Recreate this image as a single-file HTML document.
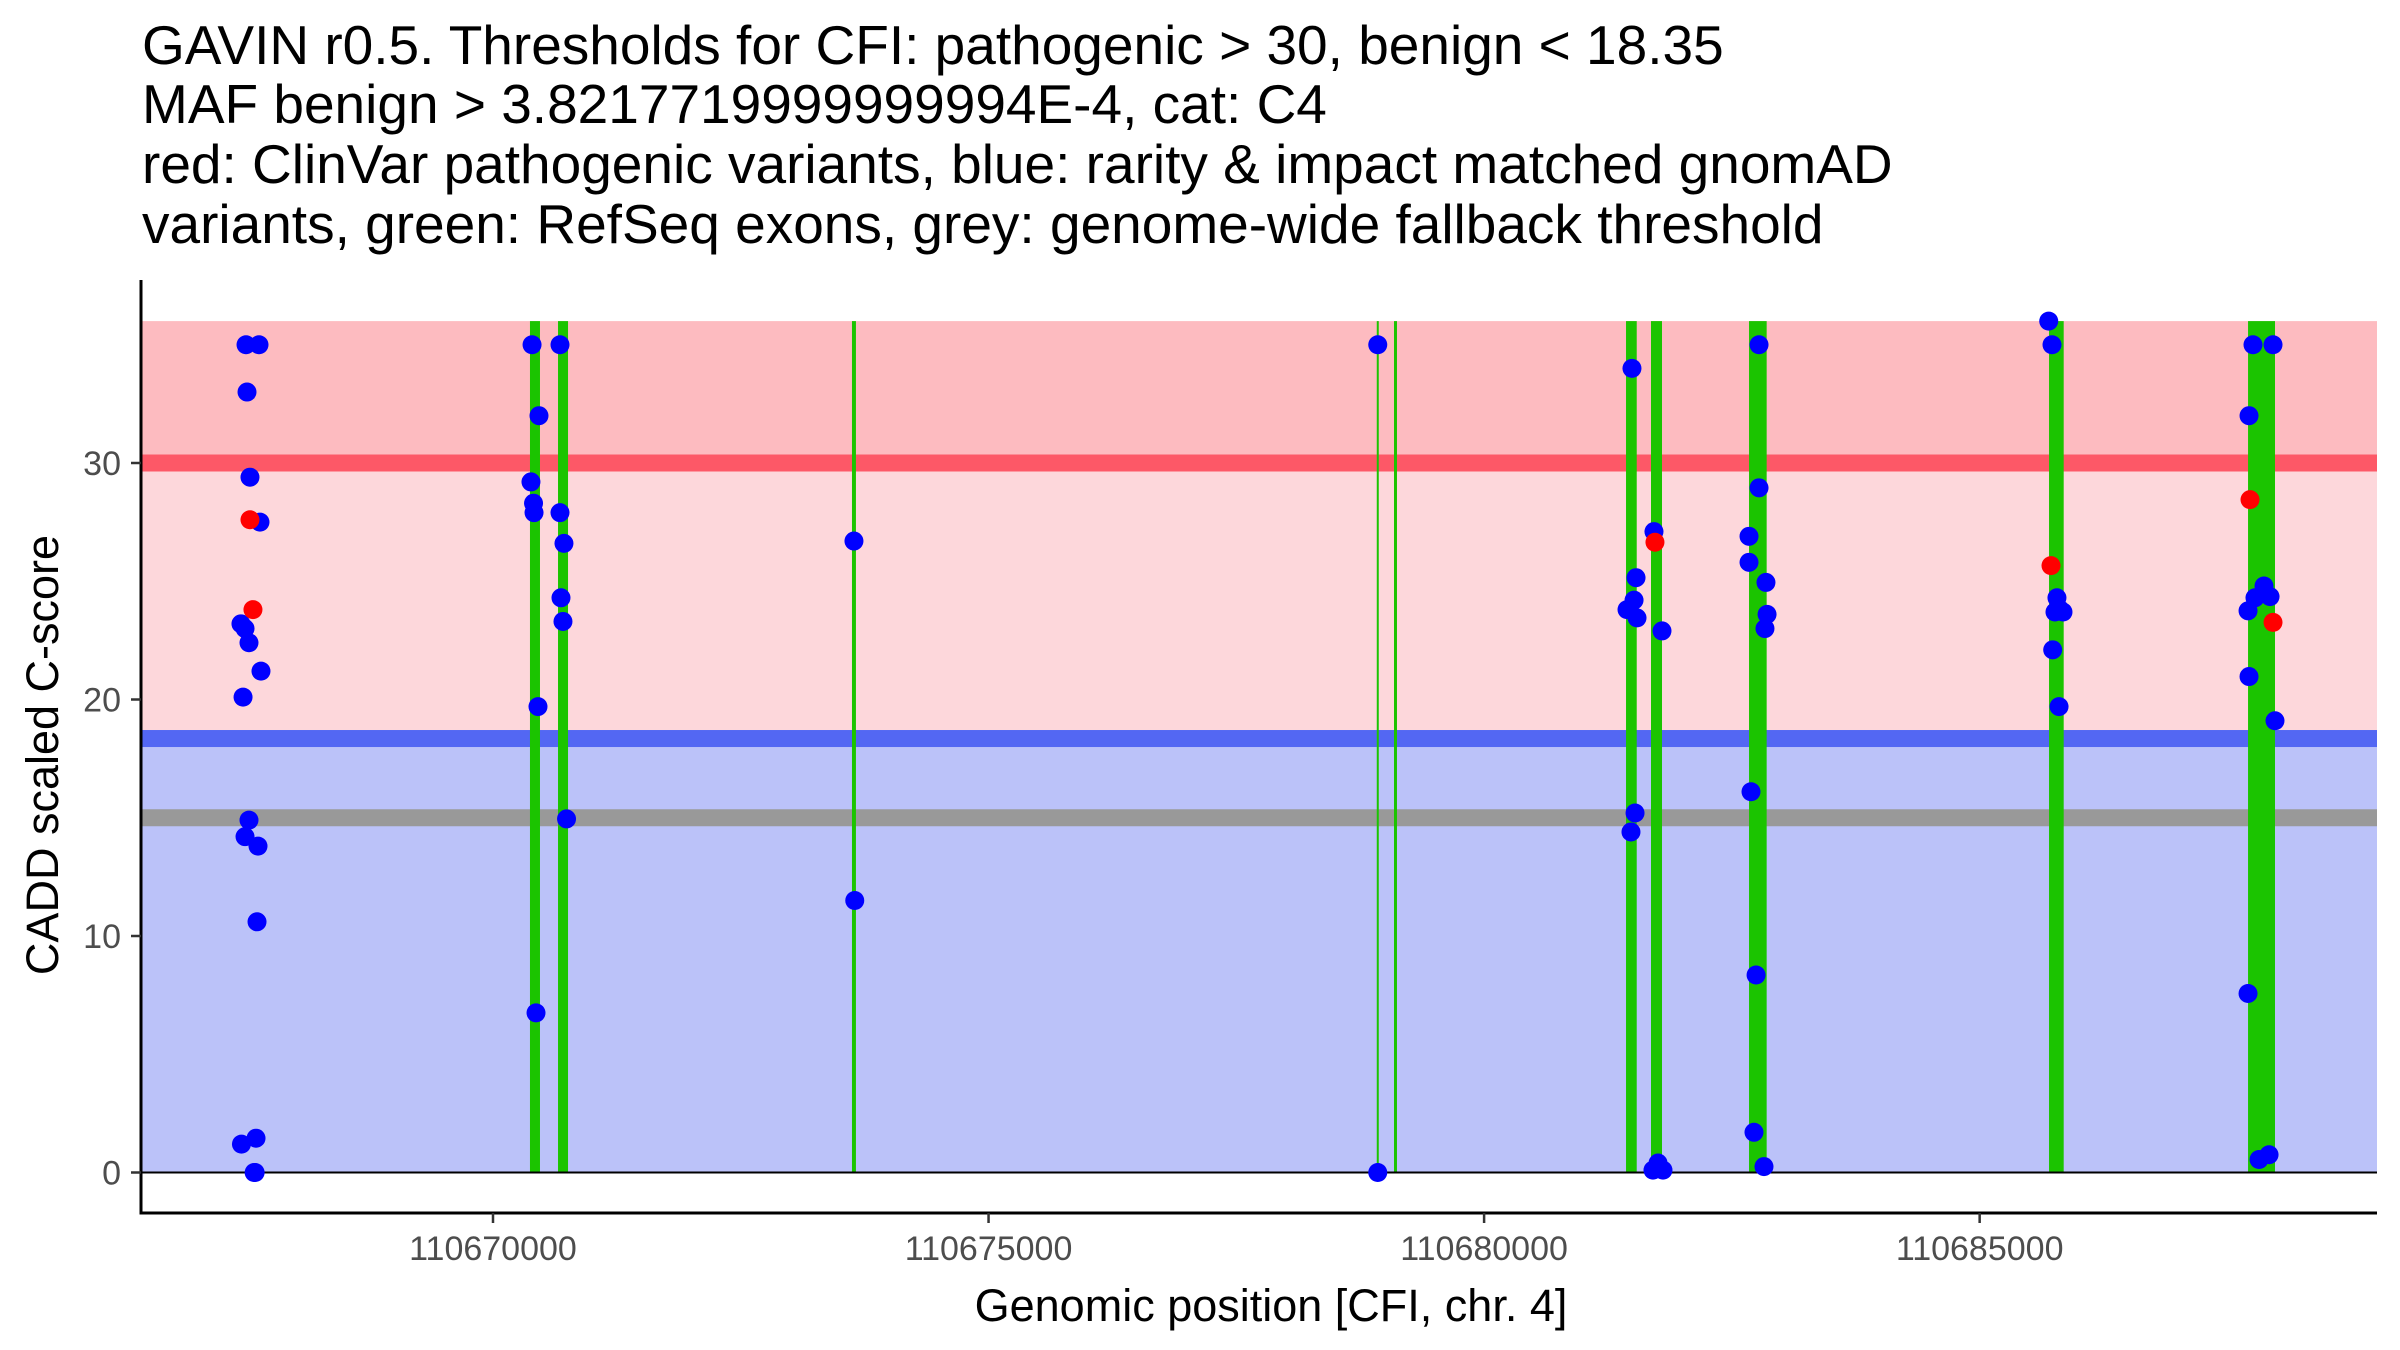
<!DOCTYPE html>
<html><head><meta charset="utf-8"><style>
html,body{margin:0;padding:0;background:#fff;}
svg{display:block;font-family:"Liberation Sans",Arial,sans-serif;}
</style></head><body>
<svg id="chart" width="2400" height="1350" viewBox="0 0 2400 1350" xmlns="http://www.w3.org/2000/svg">
<g font-size="55" fill="#000">
<text x="142" y="64">GAVIN r0.5. Thresholds for CFI: pathogenic &gt; 30, benign &lt; 18.35</text>
<text x="142" y="123">MAF benign &gt; 3.8217719999999994E-4, cat: C4</text>
<text x="142" y="183">red: ClinVar pathogenic variants, blue: rarity &amp; impact matched gnomAD</text>
<text x="142" y="243">variants, green: RefSeq exons, grey: genome-wide fallback threshold</text>
</g>
<g id="bands"></g>
<g id="exons"></g>
<line id="zeroline" stroke="#000" stroke-width="2"/>
<g id="points"></g>
<g id="axes"></g>
<text font-size="45" text-anchor="middle" transform="translate(58,755) rotate(-90)">CADD scaled C-score</text>
<text font-size="45" x="1271" y="1321" text-anchor="middle">Genomic position [CFI, chr. 4]</text>
</svg>
<script>
const exonStarts=[110670373,110670656,110673622,110678917,110679091,110681432,110681684,110682673,110685700,110687708];
const exonEnds  =[110670474,110670757,110673662,110678937,110679121,110681540,110681795,110682851,110685848,110687980];
const benignPos=[110667508,110667639,110667518,110667548,110667649,110667457,110667498,110667538,110667659,110667478,110667538,110667498,110667629,110667619,110667462,110667609,110667590,110667600,
110670394,110670676,110670464,110670383,110670409,110670414,110670676,110670716,110670686,110670706,110670454,110670742,110670434,
110673642,110673650,110678927,110678927,
110681492,110681714,110681533,110681513,110681442,110681543,110681795,110681523,110681482,110681704,110681755,110681805,
110682774,110682774,110682673,110682673,110682844,110682855,110682834,110682693,110682744,110682723,110682824,
110685697,110685730,110685780,110685760,110685841,110685811,110685737,110685801,
110687758,110687960,110687718,110687869,110687778,110687930,110687708,110687718,110687980,110687708,110687920,110687819];
const benignScore=[35,35,33,29.4,27.5,23.2,23.0,22.4,21.2,20.1,14.9,14.2,13.8,10.6,1.2,1.45,0,0,
35,35,32,29.2,28.3,27.9,27.9,26.6,24.3,23.3,19.7,14.95,6.75,
26.7,11.5,35,0,
34.0,27.1,25.15,24.2,23.8,23.45,22.9,15.2,14.4,0.1,0.4,0.1,
35,28.95,26.9,25.8,24.95,23.6,23.0,16.1,8.35,1.7,0.25,
36,35,24.3,23.7,23.7,23.8,22.1,19.7,
35,35,32,24.8,24.3,24.35,23.75,20.97,19.1,7.57,0.75,0.55];
const pathoPos=[110667548,110667578,110681724,110685720,110687728,110687960];
const pathoScore=[27.6,23.8,26.65,25.66,28.45,23.26];
const xTicks=[110670000,110675000,110680000,110685000];
const yTicks=[0,10,20,30];
const thrPatho=30, thrBenign=18.35, thrFallback=15, yTop=36;

const L=141,R=2377,T=280,B=1213;
const X=p=>493+(p-110670000)*0.09911;
const Y=v=>1172.5-v*23.65;
const NS='http://www.w3.org/2000/svg';
function mk(tag,attrs,parent){const e=document.createElementNS(NS,tag);for(const k in attrs)e.setAttribute(k,attrs[k]);parent.appendChild(e);return e;}
const bands=document.getElementById('bands');
let r;
r=mk('rect',{x:L,y:Y(yTop),width:R-L,height:Y(thrPatho)-Y(yTop),fill:'#fdbbc0'},bands);

r=mk('rect',{x:L,y:Y(thrPatho),width:R-L,height:Y(thrBenign)-Y(thrPatho),fill:'#fdd7db'},bands);

r=mk('rect',{x:L,y:Y(thrBenign),width:R-L,height:Y(0)-Y(thrBenign),fill:'#bbc2f9'},bands);

r=mk('rect',{x:L,y:Y(thrPatho)-8.5,width:R-L,height:17,fill:'#fd5867'},bands);

r=mk('rect',{x:L,y:Y(thrBenign)-8.5,width:R-L,height:17,fill:'#5367f3'},bands);

r=mk('rect',{x:L,y:Y(thrFallback)-8.5,width:R-L,height:17,fill:'#999999'},bands);

const ex=document.getElementById('exons');
for(let i=0;i<exonStarts.length;i++){
  const x0=X(exonStarts[i]),x1=X(exonEnds[i]);
  const e=mk('rect',{x:x0,y:Y(yTop),width:Math.max(2,x1-x0),height:Y(0)-Y(yTop),fill:'#1bc400'},ex);
  
  
}
const zl=document.getElementById('zeroline');
zl.setAttribute('x1',L);zl.setAttribute('x2',R);zl.setAttribute('y1',Y(0));zl.setAttribute('y2',Y(0));
const pts=document.getElementById('points');
for(let i=0;i<benignPos.length;i++){
  const c=mk('circle',{cx:X(benignPos[i]),cy:Y(benignScore[i]),r:9.5,fill:'#0000ff'},pts);
  
  
}
for(let i=0;i<pathoPos.length;i++){
  const c=mk('circle',{cx:X(pathoPos[i]),cy:Y(pathoScore[i]),r:9.5,fill:'#ff0000'},pts);
  
  
}
const ax=document.getElementById('axes');
let a=mk('line',{x1:L,y1:T,x2:L,y2:B+1.5,stroke:'#000','stroke-width':3},ax);

a=mk('line',{x1:L-1.5,y1:B,x2:R,y2:B,stroke:'#000','stroke-width':3},ax);

yTicks.forEach(v=>{
  const t=mk('line',{x1:L-10,x2:L,y1:Y(v),y2:Y(v),stroke:'#333','stroke-width':2.5},ax);
  
  const l=mk('text',{x:L-20,y:Y(v)+12,'text-anchor':'end','font-size':34,fill:'#4d4d4d'},ax);
  l.textContent=String(v);
  
});
xTicks.forEach(v=>{
  const t=mk('line',{x1:X(v),x2:X(v),y1:B,y2:B+10,stroke:'#333','stroke-width':2.5},ax);
  
  const l=mk('text',{x:X(v),y:B+47,'text-anchor':'middle','font-size':34,fill:'#4d4d4d'},ax);
  l.textContent=String(v);
  
});
</script>
</body></html>
